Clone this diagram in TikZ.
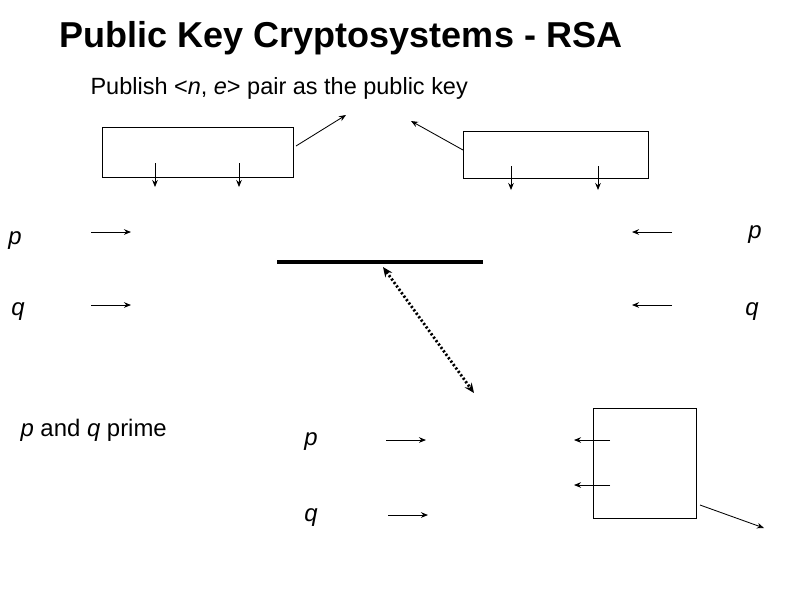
\documentclass[tikz,border=0pt]{standalone}
\usepackage{fontspec}
\setmainfont{Liberation Sans}
\usetikzlibrary{arrows.meta}
\begin{document}
\begin{tikzpicture}
[x=0.025cm,y=-0.025cm,thick,%
  every node/.style={inner sep=0pt},%
  arr/.style={-{Stealth[length=5pt,width=4pt]},semithick},%
  box/.style={draw,semithick}]
\useasboundingbox (0,0) rectangle (794,595);
\node[font=\bfseries\fontsize{25.6}{30}\selectfont] (title) at (341,38) {Public Key Cryptosystems - RSA};
\node[anchor=west,font=\fontsize{16.7}{20}\selectfont] (pub) at (90,88) {Publish <\textit{n}, \textit{e}> pair as the public key};
% boxes
\draw[box] (102,127) rectangle (293,177);
\draw[box] (463,131) rectangle (648,178);
\draw[box] (593,408) rectangle (696,518);
\foreach \x in {155,239} \draw[arr] (\x,163) coordinate (a\x) -- (\x,187) coordinate (b\x);
\foreach \x in {511,598} \draw[arr] (\x,166) coordinate (a\x) -- (\x,190) coordinate (b\x);
\coordinate (k1) at (296,146); \coordinate (k2) at (346,115);
\coordinate (k3) at (463,150); \coordinate (k4) at (411,121);
\draw[arr] (k1) -- (k2);
\draw[arr] (k3) -- (k4);
% labels
\begin{scope}[every node/.style={font=\fontsize{17}{20}\selectfont\itshape}]
\node (pl) at (15,241) {p};
\node (ql) at (18,312) {q};
\node (pr) at (755,235) {p};
\node (qr) at (752,312) {q};
\node (pb) at (311,442) {p};
\node (qb) at (311,518) {q};
\end{scope}
\node[anchor=west,font=\fontsize{17}{20}\selectfont] (prime) at (20,430) {\textit{p} and \textit{q} prime};
\foreach \y/\n in {232/1,305/2} {
  \draw[arr] (91,\y) coordinate (l\n) -- (131,\y) coordinate (m\n);
  \draw[arr] (672,\y) coordinate (r\n) -- (632,\y) coordinate (s\n);
}
\draw[arr] (386,440) coordinate (u1) -- (426,440) coordinate (v1);
\draw[arr] (388,515) coordinate (u2) -- (428,515) coordinate (v2);
\draw[arr] (610,440) coordinate (w1) -- (574,440) coordinate (z1);
\draw[arr] (610,485) coordinate (w2) -- (574,485) coordinate (z2);
\coordinate (o1) at (700,505); \coordinate (o2) at (764,528);
\draw[arr] (o1) -- (o2);
% bar and link
\coordinate (h1) at (277,262); \coordinate (h2) at (483,262);
\draw[line width=3pt] (h1) -- (h2);
\coordinate (d1) at (383,267); \coordinate (d2) at (474,393);
\draw[{Stealth[length=7pt,width=6pt]}-{Stealth[length=7pt,width=6pt]},line width=2pt,dash pattern=on 1.5pt off 1.5pt] (d1) -- (d2);
\end{tikzpicture}
\end{document}
